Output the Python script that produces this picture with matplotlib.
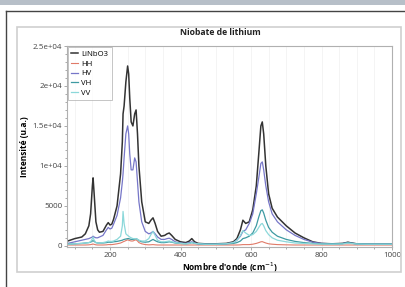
import numpy as np
import matplotlib
matplotlib.use('Agg')
import matplotlib.pyplot as plt
from matplotlib.patches import Rectangle
from matplotlib.ticker import AutoMinorLocator, FuncFormatter

plt.rcParams['font.family'] = ['Open Sans', 'DejaVu Sans']

#_______________________________________________________________________________
# DATA
wn = [80, 100, 120, 130, 140, 145, 150, 152, 155, 160, 165, 170, 180, 190, 195,
      200, 205, 210, 220, 230, 235, 237, 240, 245, 250, 253, 256, 260, 265, 270,
      274, 278, 282, 290, 300, 310, 316, 322, 328, 335, 345, 355, 362, 368, 375,
      385, 400, 415, 425, 432, 440, 450, 470, 500, 530, 550, 560, 570, 577, 585,
      595, 605, 615, 622, 628, 632, 636, 642, 650, 660, 675, 700, 725, 750, 775,
      800, 830, 860, 875, 885, 900, 930, 960, 1000]

linbo3 = [600, 900, 1100, 1500, 2500, 4000, 7500, 8500, 6500, 3000, 2000, 1700, 1800, 2600, 2900,
          2600, 2700, 3300, 5000, 9000, 13000, 16500, 17500, 20500, 22500, 21500, 18500, 15500, 15000, 16500,
          17000, 14000, 10000, 5500, 3000, 2800, 3200, 3500, 2800, 1800, 1200, 1300, 1500, 1600, 1300,
          800, 500, 400, 600, 900, 500, 300, 250, 250, 300, 500, 900, 2000, 3200, 2800,
          3000, 4500, 7500, 11500, 15000, 15500, 14000, 10000, 6500, 4700, 3600, 2500, 1600, 1000, 500,
          300, 250, 300, 450, 350, 250, 200, 200, 200]

hh = [100, 100, 100, 100, 120, 150, 200, 220, 180, 120, 100, 100, 100, 120, 150,
      150, 150, 180, 250, 350, 450, 500, 550, 650, 750, 700, 650, 600, 600, 700,
      750, 600, 400, 250, 150, 120, 130, 150, 120, 100, 100, 100, 100, 100, 100,
      100, 100, 100, 100, 100, 100, 100, 100, 100, 100, 100, 100, 120, 150, 150,
      150, 200, 300, 400, 500, 520, 450, 350, 250, 200, 150, 120, 100, 100, 100,
      100, 100, 100, 100, 100, 100, 100, 100, 100]

hv = [300, 500, 700, 800, 900, 1000, 1100, 1200, 1100, 1000, 1000, 1100, 1300, 2000, 2300,
      2100, 2200, 2700, 3800, 6000, 8000, 9000, 11000, 14000, 15000, 14000, 11500, 9500, 9500, 11000,
      10500, 8000, 5500, 3000, 1800, 1500, 1600, 1800, 1500, 1100, 800, 800, 900, 950, 800,
      500, 350, 300, 400, 500, 350, 250, 200, 200, 250, 400, 700, 1200, 1800, 2000,
      2800, 4000, 6500, 8500, 10300, 10500, 9500, 7500, 5500, 4000, 3000, 2000, 1300, 800, 450,
      300, 250, 280, 400, 320, 250, 200, 200, 200]

vh = [200, 250, 300, 350, 400, 450, 600, 650, 550, 400, 350, 350, 350, 400, 450,
      450, 450, 500, 550, 650, 700, 750, 800, 850, 900, 900, 850, 800, 800, 850,
      900, 800, 650, 500, 450, 500, 650, 800, 650, 500, 400, 400, 450, 500, 450,
      350, 300, 250, 300, 400, 300, 250, 200, 200, 250, 300, 400, 600, 900, 1000,
      1200, 1600, 2500, 3600, 4400, 4500, 4100, 3200, 2300, 1700, 1200, 800, 550, 400, 300,
      250, 250, 280, 400, 330, 250, 220, 220, 220]

vv = [200, 250, 300, 350, 400, 500, 900, 1100, 700, 400, 350, 350, 400, 500, 600,
      550, 550, 600, 800, 1200, 2500, 4300, 2800, 1500, 1300, 1200, 1100, 1000, 900, 900,
      900, 800, 700, 600, 600, 900, 1400, 1800, 1300, 700, 500, 500, 550, 600, 500,
      400, 300, 250, 300, 400, 300, 250, 200, 200, 250, 400, 700, 1300, 1900, 1600,
      1300, 1400, 1800, 2300, 2700, 2800, 2500, 1900, 1400, 1000, 700, 500, 350, 300, 250,
      220, 200, 230, 330, 280, 220, 200, 200, 200]

series = [('LiNbO3', linbo3, '#333333', 1.1),
          ('HH', hh, '#e07a68', 0.8),
          ('HV', hv, '#7676c8', 0.9),
          ('VH', vh, '#3e9aa2', 0.9),
          ('VV', vv, '#8cd8da', 0.9)]

#_______________________________________________________________________________
# FIGURE + decorations
fig = plt.figure(figsize=(4.05, 2.87), dpi=100)
W, H = 405.0, 287.0

# top grey band
fig.patches.append(Rectangle((0, 1 - 5 / H), 1, 5 / H, transform=fig.transFigure,
                             facecolor='#b7bfc8', edgecolor='none', zorder=0))
# dark frame (top + left)
fig.add_artist(plt.Line2D([6 / W, 1], [1 - 11 / H, 1 - 11 / H], transform=fig.transFigure,
                          color='#444444', lw=1.0))
fig.add_artist(plt.Line2D([6 / W, 6 / W], [0, 1 - 11 / H], transform=fig.transFigure,
                          color='#444444', lw=1.0))
# light panel border
fig.patches.append(Rectangle((17 / W, 1 - 272 / H), (401 - 17) / W, (272 - 27) / H,
                             transform=fig.transFigure, facecolor='none',
                             edgecolor='#cfcfcf', lw=1.2, zorder=0))

ax = fig.add_axes([67 / W, 1 - 247 / H, (392 - 67) / W, (247 - 46) / H])

for name, vals, col, lw in series:
    ax.plot(wn, vals, color=col, lw=lw, label=name)

ax.set_xlim(78, 1000)
ax.set_ylim(-150, 25000)
ax.set_xticks([200, 400, 600, 800, 1000])
ax.set_yticks([0, 5000, 10000, 15000, 20000, 25000])
ax.yaxis.set_major_formatter(FuncFormatter(lambda v, p: f"{v:.2g}" if v >= 1e4 else f"{v:g}"))
ax.xaxis.set_minor_locator(AutoMinorLocator(4))
ax.yaxis.set_minor_locator(AutoMinorLocator(5))
ax.tick_params(which='both', labelsize=5.8, colors='#888888', labelcolor='#444444',
               length=2, width=0.5, pad=1.5)
ax.tick_params(which='minor', length=1.2)
ax.grid(True, axis='x', which='both', color='#f3f3f3', lw=0.6)
ax.set_axisbelow(True)
for sp in ax.spines.values():
    sp.set_color('#b0b0b0')
    sp.set_linewidth(0.8)

ax.set_xlabel("Nombre d'onde (cm$^{-1}$)", fontsize=6, fontweight='bold', labelpad=1)
ax.set_ylabel('Intensité (u.a.)', fontsize=6, fontweight='bold', labelpad=3)
fig.text(220 / W, 1 - 33 / H, 'Niobate de lithium', fontsize=6.2, fontweight='bold',
         ha='center', va='center', color='#222222')

leg = ax.legend(loc='upper left', fontsize=5.6, frameon=True, fancybox=False,
                borderpad=0.4, labelspacing=0.3, handlelength=0.9, handletextpad=0.4,
                borderaxespad=0.15, edgecolor='#aaaaaa')
leg.get_frame().set_linewidth(0.6)

fig.savefig('out.png', dpi=100)
